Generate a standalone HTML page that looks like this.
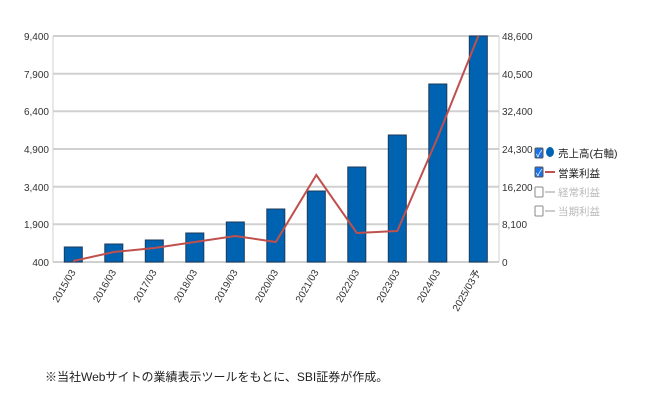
<!DOCTYPE html>
<html><head><meta charset="utf-8"><style>
body{margin:0;background:#fff;width:651px;height:406px;overflow:hidden}
svg text{font-family:"Liberation Sans","Noto Sans CJK JP",sans-serif}
</style></head><body>
<svg width="651" height="406" xmlns="http://www.w3.org/2000/svg">
<g stroke="#d0d0d0" stroke-width="2">
<line x1="53" y1="36" x2="499" y2="36"/><line x1="53" y1="73.7" x2="499" y2="73.7"/>
<line x1="53" y1="111.3" x2="499" y2="111.3"/><line x1="53" y1="149" x2="499" y2="149"/>
<line x1="53" y1="186.7" x2="499" y2="186.7"/><line x1="53" y1="224.3" x2="499" y2="224.3"/>
<line x1="53" y1="262" x2="499" y2="262"/>
<line x1="53" y1="36" x2="53" y2="262" stroke-width="1"/><line x1="499" y1="36" x2="499" y2="262" stroke-width="1"/>
</g>
<g font-size="10" fill="#333" text-anchor="end">
<text x="49" y="40">9,400</text><text x="49" y="78">7,900</text><text x="49" y="115">6,400</text>
<text x="49" y="153">4,900</text><text x="49" y="191">3,400</text><text x="49" y="228">1,900</text><text x="49" y="266">400</text>
</g>
<g font-size="10" fill="#333">
<text x="502" y="40">48,600</text><text x="502" y="78">40,500</text><text x="502" y="115">32,400</text>
<text x="502" y="153">24,300</text><text x="502" y="191">16,200</text><text x="502" y="228">8,100</text><text x="502" y="266">0</text>
</g>
<g fill="#0063b1" stroke="#1d3a5a" stroke-width="1">
<rect x="64.3" y="247" width="18" height="15"/><rect x="104.8" y="244" width="18" height="18"/>
<rect x="145.3" y="240" width="18" height="22"/><rect x="185.8" y="233" width="18" height="29"/>
<rect x="226.3" y="222" width="18" height="40"/><rect x="266.8" y="209" width="18" height="53"/>
<rect x="307.3" y="191" width="18" height="71"/><rect x="347.8" y="167" width="18" height="95"/>
<rect x="388.3" y="135" width="18" height="127"/><rect x="428.8" y="84" width="18" height="178"/>
<rect x="469.3" y="36" width="18" height="226"/>
</g>
<polyline fill="none" stroke="#c0504d" stroke-width="2" points="73.3,261 113.8,252 154.3,248 194.8,242 235.3,236 275.8,242 316.3,175 356.8,233 397.3,231 437.8,137 478.3,36"/>
<g font-size="10" fill="#333" text-anchor="end">
<text transform="translate(76,272) rotate(-60)">2015/03</text>
<text transform="translate(116.5,272) rotate(-60)">2016/03</text>
<text transform="translate(157,272) rotate(-60)">2017/03</text>
<text transform="translate(197.5,272) rotate(-60)">2018/03</text>
<text transform="translate(238,272) rotate(-60)">2019/03</text>
<text transform="translate(278.5,272) rotate(-60)">2020/03</text>
<text transform="translate(319,272) rotate(-60)">2021/03</text>
<text transform="translate(359.5,272) rotate(-60)">2022/03</text>
<text transform="translate(400,272) rotate(-60)">2023/03</text>
<text transform="translate(440.5,272) rotate(-60)">2024/03</text>
<text transform="translate(481,272) rotate(-60)">2025/03予</text>
</g>
<g font-size="10.5">
<rect x="535" y="148" width="8" height="10" fill="#1a73e8" stroke="#555" rx="1"/><text x="536" y="157" fill="#fff" font-size="9">✓</text>
<ellipse cx="550" cy="152" rx="4" ry="5" fill="#0063b1"/><text x="558" y="157" fill="#222">売上高(右軸)</text>
<rect x="535" y="167" width="8" height="10" fill="#1a73e8" stroke="#555" rx="1"/><text x="536" y="176" fill="#fff" font-size="9">✓</text>
<line x1="545" y1="172" x2="555" y2="172" stroke="#c0504d" stroke-width="2"/><text x="558" y="177" fill="#222">営業利益</text>
<rect x="535" y="187" width="8" height="10" fill="#fff" stroke="#888" rx="1"/>
<line x1="545" y1="192" x2="555" y2="192" stroke="#ccc" stroke-width="2"/><text x="558" y="196" fill="#bbb">経常利益</text>
<rect x="535" y="206" width="8" height="10" fill="#fff" stroke="#888" rx="1"/>
<line x1="545" y1="211" x2="555" y2="211" stroke="#ccc" stroke-width="2"/><text x="558" y="215" fill="#bbb">当期利益</text>
</g>
<text x="45" y="381" font-size="12" fill="#222">※当社Webサイトの業績表示ツールをもとに、SBI証券が作成。</text>
</svg>
</body></html>
